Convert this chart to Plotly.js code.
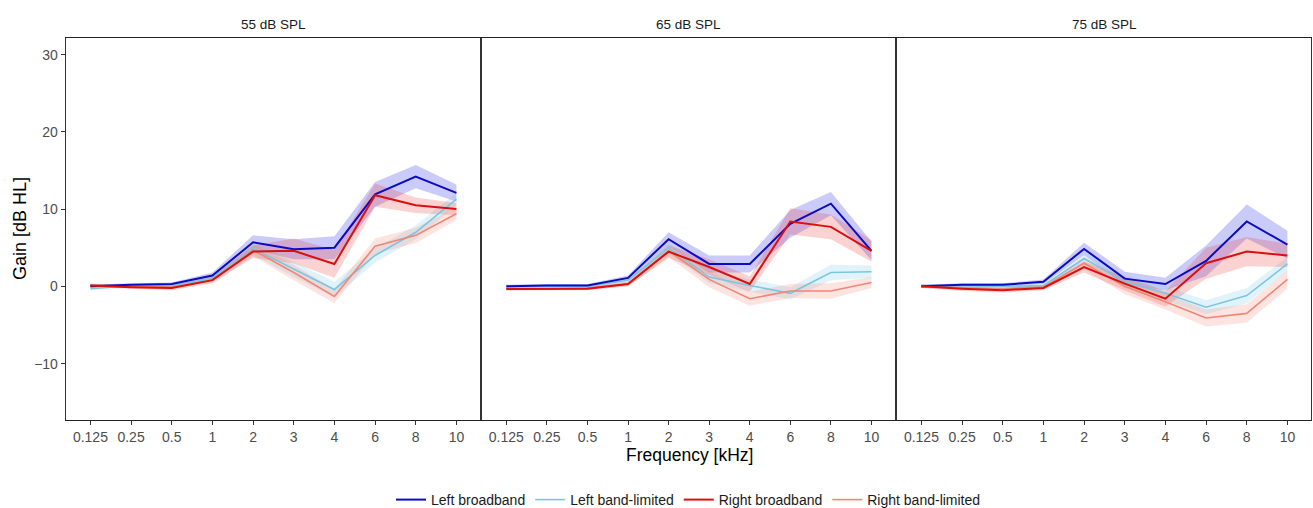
<!DOCTYPE html>
<html>
<head>
<meta charset="utf-8">
<script src="https://cdn.plot.ly/plotly-3.0.1.min.js"></script>
<style>html,body{margin:0;padding:0;background:#fff;}#chart{width:1313px;height:508px;}</style>
</head>
<body>
<div id="chart"></div>
<script>
// ---- data ----
const freqs = ['0.125','0.25','0.5','1','2','3','4','6','8','10'];
const panelTitles = ['55 dB SPL','65 dB SPL','75 dB SPL'];
const seriesNames = ['Left broadband','Left band-limited','Right broadband','Right band-limited'];

// 55 dB SPL
const p55_leftBroad      = [0.0, 0.2, 0.3, 1.4, 5.7, 4.8, 5.0, 11.9, 14.2, 12.1];
const p55_leftBroad_ci   = [0.2, 0.2, 0.2, 0.4, 0.9, 1.3, 1.5, 1.6, 1.5, 1.1];
const p55_leftBand       = [-0.3, 0.1, 0.1, 1.0, 4.9, 2.2, -0.4, 4.0, 7.0, 11.3];
const p55_leftBand_ci    = [0.2, 0.2, 0.2, 0.3, 0.8, 1.0, 1.0, 0.9, 0.9, 0.8];
const p55_rightBroad     = [0.1, -0.1, -0.2, 0.8, 4.5, 4.6, 2.9, 11.8, 10.5, 10.0];
const p55_rightBroad_ci  = [0.2, 0.2, 0.3, 0.4, 0.8, 1.6, 1.8, 1.5, 1.0, 0.8];
const p55_rightBand      = [0.2, 0.0, -0.1, 0.8, 4.7, 1.8, -1.3, 5.2, 6.6, 9.4];
const p55_rightBand_ci   = [0.2, 0.2, 0.2, 0.3, 0.8, 1.0, 0.9, 1.0, 1.0, 0.8];

// 65 dB SPL
const p65_leftBroad      = [0.0, 0.1, 0.1, 1.1, 6.1, 2.9, 2.9, 8.1, 10.7, 4.6];
const p65_leftBroad_ci   = [0.2, 0.2, 0.2, 0.3, 0.9, 1.1, 1.1, 1.8, 1.5, 1.2];
const p65_leftBand       = [0.0, 0.0, 0.0, 0.8, 5.0, 1.2, 0.1, -0.9, 1.8, 1.9];
const p65_leftBand_ci    = [0.2, 0.2, 0.2, 0.3, 0.7, 0.8, 0.8, 0.8, 1.0, 0.8];
const p65_rightBroad     = [-0.35, -0.3, -0.3, 0.3, 4.5, 2.5, 0.3, 8.4, 7.7, 4.6];
const p65_rightBroad_ci  = [0.2, 0.2, 0.2, 0.3, 0.8, 1.0, 1.0, 1.7, 1.6, 1.4];
const p65_rightBand      = [-0.3, -0.3, -0.2, 0.3, 4.6, 0.9, -1.6, -0.6, -0.6, 0.5];
const p65_rightBand_ci   = [0.2, 0.2, 0.2, 0.3, 0.8, 1.0, 0.9, 0.9, 1.0, 0.7];

// 75 dB SPL
const p75_leftBroad      = [0.0, 0.2, 0.2, 0.6, 4.85, 1.0, 0.3, 3.3, 8.4, 5.4];
const p75_leftBroad_ci   = [0.2, 0.2, 0.2, 0.3, 0.8, 0.9, 0.8, 2.0, 2.2, 1.8];
const p75_leftBand       = [0.1, 0.1, 0.0, 0.1, 3.6, 0.6, -0.9, -2.7, -1.2, 2.9];
const p75_leftBand_ci    = [0.2, 0.2, 0.2, 0.3, 0.7, 0.8, 0.9, 0.9, 1.0, 0.9];
const p75_rightBroad     = [0.0, -0.3, -0.5, -0.2, 2.5, 0.35, -1.6, 3.0, 4.5, 4.0];
const p75_rightBroad_ci  = [0.2, 0.3, 0.3, 0.3, 0.7, 0.9, 1.0, 2.0, 1.9, 1.5];
const p75_rightBand      = [0.0, -0.2, -0.3, -0.1, 3.0, 0.0, -2.0, -4.1, -3.5, 0.9];
const p75_rightBand_ci   = [0.2, 0.2, 0.3, 0.3, 0.8, 1.0, 1.0, 1.1, 1.2, 1.2];

// ---- styling ----
const lineColors = ['#0b0bc4', '#7cc6e0', '#d81010', '#ef8676'];
const fillColors = ['rgba(70,70,235,0.28)', 'rgba(135,206,235,0.25)', 'rgba(235,50,50,0.22)', 'rgba(245,130,115,0.22)'];
const lineWidths = [2, 1.6, 2, 1.6];

const panels = [
  [[p55_leftBroad,p55_leftBroad_ci],[p55_leftBand,p55_leftBand_ci],[p55_rightBroad,p55_rightBroad_ci],[p55_rightBand,p55_rightBand_ci]],
  [[p65_leftBroad,p65_leftBroad_ci],[p65_leftBand,p65_leftBand_ci],[p65_rightBroad,p65_rightBroad_ci],[p65_rightBand,p65_rightBand_ci]],
  [[p75_leftBroad,p75_leftBroad_ci],[p75_leftBand,p75_leftBand_ci],[p75_rightBroad,p75_rightBroad_ci],[p75_rightBand,p75_rightBand_ci]]
];

const traces = [];
panels.forEach((panel, pi) => {
  const xa = pi === 0 ? 'x' : 'x' + (pi + 1);
  const ya = pi === 0 ? 'y' : 'y' + (pi + 1);
  // ribbons
  panel.forEach(([m, ci], si) => {
    const upper = m.map((v, i) => v + ci[i]);
    const lower = m.map((v, i) => v - ci[i]);
    traces.push({
      type: 'scatter', mode: 'lines', xaxis: xa, yaxis: ya,
      x: freqs.concat(freqs.slice().reverse()),
      y: upper.concat(lower.slice().reverse()),
      fill: 'toself', fillcolor: fillColors[si],
      line: {width: 0, color: 'rgba(0,0,0,0)'},
      showlegend: false, hoverinfo: 'skip'
    });
  });
  // lines (band-limited underneath broadband)
  [1, 3, 0, 2].forEach(si => {
    traces.push({
      type: 'scatter', mode: 'lines', xaxis: xa, yaxis: ya,
      x: freqs, y: panel[si][0],
      name: seriesNames[si], legendgroup: seriesNames[si],
      legendrank: si + 1,
      line: {color: lineColors[si], width: lineWidths[si]},
      showlegend: pi === 0, hoverinfo: 'skip'
    });
  });
});

const W = 1245;
const domains = [[0, 414 / W], [416 / W, 829 / W], [831 / W, 1]];
const tickFont = {family: 'Liberation Sans, Arial, sans-serif', size: 14, color: '#4d4d4d'};
const layout = {
  width: 1313, height: 508,
  margin: {l: 66, r: 2, t: 38, b: 88, autoexpand: false},
  paper_bgcolor: '#fff', plot_bgcolor: '#fff',
  font: {family: 'Liberation Sans, Arial, sans-serif', color: '#1a1a1a'},
  showlegend: true,
  legend: {
    orientation: 'h', x: 0.5, xanchor: 'center', y: (420 - 500) / 382, yanchor: 'middle',
    font: {size: 14, color: '#1a1a1a'}, itemwidth: 30, traceorder: 'normal',
    tracegroupgap: 0
  },
  annotations: [],
  shapes: []
};
for (let i = 0; i < 3; i++) {
  const sfx = i === 0 ? '' : String(i + 1);
  layout['xaxis' + sfx] = {
    domain: domains[i], anchor: 'y' + sfx,
    type: 'category', categoryorder: 'array', categoryarray: freqs,
    range: [-0.6, 9.58], showgrid: false, zeroline: false,
    showline: true, linecolor: '#222', linewidth: 1.2, mirror: true,
    ticks: 'outside', ticklen: 4, tickcolor: '#333', tickwidth: 1,
    tickfont: tickFont, fixedrange: true
  };
  layout['yaxis' + sfx] = {
    domain: [0, 1], anchor: 'x' + sfx,
    range: [-17.3, 32.15], showgrid: false, zeroline: false,
    showline: true, linecolor: '#333', linewidth: i === 0 ? 1.3 : 1, mirror: true,
    tickvals: [-10, 0, 10, 20, 30],
    ticktext: ['\u221210', '0', '10', '20', '30'],
    ticks: i === 0 ? 'outside' : '', ticklen: 4, tickcolor: '#333',
    showticklabels: i === 0, tickfont: tickFont, fixedrange: true
  };
  layout.annotations.push({
    text: panelTitles[i], xref: 'paper', yref: 'paper',
    x: (domains[i][0] + domains[i][1]) / 2, y: 1, yshift: 14,
    xanchor: 'center', yanchor: 'middle', showarrow: false,
    font: {size: 13.5, color: '#1a1a1a'}
  });
}
layout.annotations.push({
  text: 'Gain [dB HL]', xref: 'paper', yref: 'paper',
  x: (20 - 66) / W, y: 0.5, xanchor: 'center', yanchor: 'middle',
  textangle: -90, showarrow: false, font: {size: 18, color: '#000'}
});
layout.annotations.push({
  text: 'Frequency [kHz]', xref: 'paper', yref: 'paper',
  x: (689 - 66) / W, y: (420 - 455) / 382, xanchor: 'center', yanchor: 'middle',
  showarrow: false, font: {size: 17.5, color: '#000'}
});

Plotly.newPlot('chart', traces, layout, {displayModeBar: false, staticPlot: true});
</script>
</body>
</html>
